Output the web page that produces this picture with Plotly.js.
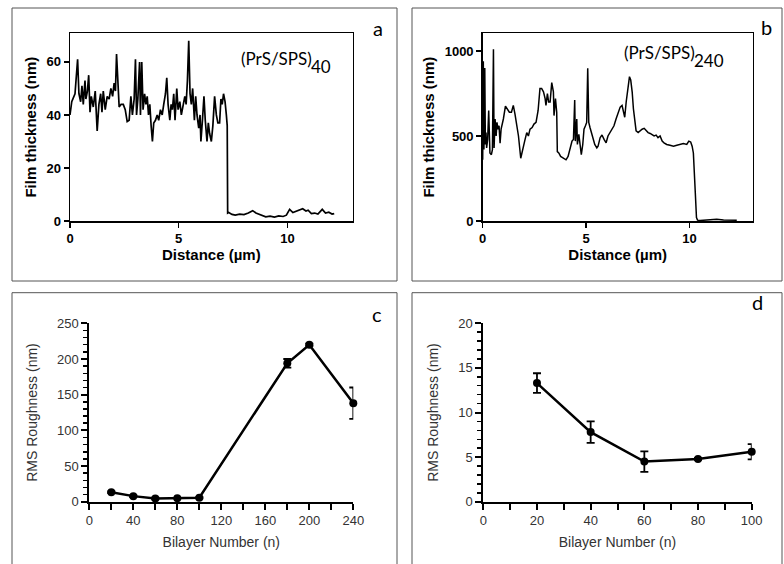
<!DOCTYPE html>
<html>
<head>
<meta charset="utf-8">
<script src="https://cdn.plot.ly/plotly-3.0.1.min.js"></script>
<style>html,body{margin:0;padding:0;background:#fff}#chart{width:784px;height:564px}</style>
</head>
<body>
<div id="chart"></div>
<script>
// Panel a: (PrS/SPS)40 height profile
const distA = [0,0.08,0.23,0.35,0.41,0.49,0.55,0.61,0.69,0.73,
  0.80,0.86,0.92,0.98,1.07,1.16,1.25,1.33,1.41,1.47,
  1.53,1.62,1.71,1.80,1.88,1.96,2.03,2.09,2.14,2.20,
  2.26,2.35,2.45,2.54,2.63,2.72,2.80,2.87,2.95,3.01,
  3.06,3.12,3.20,3.24,3.30,3.36,3.43,3.49,3.55,3.61,
  3.67,3.73,3.79,3.85,3.93,4.01,4.08,4.16,4.24,4.31,
  4.39,4.45,4.51,4.59,4.65,4.71,4.77,4.83,4.91,4.97,
  5.05,5.12,5.20,5.28,5.34,5.40,5.46,5.52,5.58,5.64,
  5.72,5.78,5.84,5.92,5.98,6.02,6.09,6.16,6.22,6.30,
  6.36,6.42,6.50,6.57,6.65,6.73,6.80,6.88,6.94,7.00,
  7.06,7.13,7.19,7.23,7.25,
  7.30,7.45,7.60,7.80,8.00,8.20,8.40,8.55,8.70,8.85,
  9.00,9.20,9.40,9.60,9.80,9.95,10.10,10.25,10.40,10.55,
  10.70,10.85,10.95,11.10,11.25,11.40,11.60,11.75,11.90,12.05,12.15];
const thickA = [40,45,48,61,48,45,51,44,53,46,
  49,55,41,47,43,49,34,44,48,41,
  49,42,47,46,50,47,52,49,63,50,
  43,44,44,42,37.5,38,47,40,46,61,
  40,46,60,40,60,42,48,44,47,40,
  44,36,30,37,38,40,38,42,40,44,
  48,54,44,38,44,42,48,38,50,42,
  45,40,44,47,44,53,68,48,44,50,
  38,47,40,35,40,30,38,47,38,30,
  37,33,30,36,47,40,37,37,46,44,
  48,45,40,36,3,
  3.2,2.5,2.2,2.6,2.4,3.0,3.9,3.0,2.6,2.0,
  1.6,1.8,1.5,1.9,1.7,2.2,4.4,3.2,3.6,4.0,
  4.6,3.8,4.1,2.8,3.0,2.6,4.4,3.0,3.3,2.6,2.8];

// Panel b: (PrS/SPS)240 height profile
const distB = [0.00,0.03,0.06,0.10,0.13,0.16,0.19,0.24,0.29,0.35,
  0.42,0.47,0.52,0.55,0.60,0.65,0.69,0.74,0.79,0.84,
  0.89,1.00,1.10,1.19,1.29,1.39,1.48,1.56,1.65,1.73,
  1.84,1.94,2.03,2.13,2.21,2.29,2.39,2.48,2.58,2.68,
  2.77,2.85,2.94,3.02,3.06,3.13,3.19,3.26,3.34,3.42,
  3.45,3.52,3.58,3.61,3.68,3.77,3.90,4.03,4.13,4.23,
  4.32,4.39,4.45,4.48,4.55,4.58,4.65,4.71,4.77,4.84,
  4.90,4.97,5.03,5.08,5.13,5.19,5.26,5.32,5.42,5.52,
  5.58,5.68,5.77,5.87,5.97,6.06,6.16,6.26,6.35,6.45,
  6.55,6.65,6.74,6.81,6.87,6.94,7.03,7.10,7.16,7.23,
  7.29,7.35,7.42,7.52,7.61,7.71,7.81,7.90,8.00,8.10,
  8.19,8.29,8.39,8.48,8.58,8.68,8.77,8.90,9.06,9.23,
  9.39,9.55,9.71,9.87,9.97,10.06,10.13,10.19,10.24,10.29,
  10.34,10.39,10.52,11.00,11.32,11.65,12.29];
const thickB = [360,940,420,900,450,520,430,480,650,400,
  390,420,1010,430,600,500,580,540,560,457,
  540,600,676,660,640,640,680,630,560,500,
  369,430,470,520,500,540,550,570,580,650,
  780,780,760,720,680,750,700,700,814,760,
  620,720,640,408,400,380,370,360,380,420,
  470,480,712,470,600,450,510,450,390,450,
  540,560,580,898,580,550,520,480,450,430,
  440,490,506,480,460,500,520,540,560,600,
  640,670,680,640,610,700,800,849,830,760,
  660,600,530,520,530,540,545,530,520,515,
  510,500,505,490,500,470,460,450,445,440,
  445,450,455,450,470,465,440,400,300,150,
  20,5,3,6,10,6,5];

// Panel c: RMS roughness vs bilayer number (all)
const bilayerC = [20,40,60,80,100,180,200,240];
const rmsC = [13.3,7.8,4.5,4.8,5.6,194,220,138];
const errC = [1.1,1.2,1.15,0.1,0.85,6,1.5,22];

// Panel d: RMS roughness vs bilayer number (20-100)
const bilayerD = [20,40,60,80,100];
const rmsD = [13.3,7.8,4.5,4.8,5.6];
const errD = [1.1,1.2,1.15,0.1,0.85];

const W = 784, H = 564;
const px = v => v / W;
const py = v => 1 - v / H;

const FONT = 'Liberation Sans, Arial, sans-serif';
const CAL = 'Lato, Carlito, Calibri, sans-serif';

const traces = [
  {x: distA, y: thickA, xaxis: 'x', yaxis: 'y', mode: 'lines', type: 'scatter',
   line: {color: '#000', width: 1.7}, hoverinfo: 'skip'},
  {x: distB, y: thickB, xaxis: 'x2', yaxis: 'y2', mode: 'lines', type: 'scatter',
   line: {color: '#000', width: 1.5}, hoverinfo: 'skip'},
  {x: bilayerC, y: rmsC, xaxis: 'x3', yaxis: 'y3', mode: 'lines+markers', type: 'scatter',
   line: {color: '#000', width: 2.5}, marker: {color: '#000', size: 8},
   error_y: {type: 'data', array: errC, visible: true, color: '#000', thickness: 1.8, width: 4},
   cliponaxis: false},
  {x: bilayerD, y: rmsD, xaxis: 'x4', yaxis: 'y4', mode: 'lines+markers', type: 'scatter',
   line: {color: '#000', width: 2.5}, marker: {color: '#000', size: 8},
   error_y: {type: 'data', array: errD, visible: true, color: '#000', thickness: 1.8, width: 4},
   cliponaxis: false}
];

const boldTick = {family: FONT, size: 13, color: '#000', weight: 'bold'};
const boldTitle = {family: FONT, size: 15, color: '#000', weight: 'bold'};
const regTick = {family: FONT, size: 13, color: '#333'};
const regTitle = {family: FONT, size: 14, color: '#333'};

function profX(dom, anchor, title) {
  return {domain: dom, anchor: anchor, range: [0, 13], dtick: 5, tick0: 0, showgrid: false, zeroline: false,
    showline: true, mirror: true, linecolor: '#000', linewidth: 1.5,
    ticks: 'outside', ticklen: 5, tickwidth: 1.5, tickcolor: '#000',
    tickfont: boldTick, automargin: false,
    title: {text: title, font: boldTitle, standoff: 4}};
}
function profY(dom, anchor, rng, dt, title) {
  return {domain: dom, anchor: anchor, range: rng, dtick: dt, tick0: 0, showgrid: false, zeroline: false,
    showline: true, mirror: true, linecolor: '#000', linewidth: 1.5,
    ticks: 'outside', ticklen: 5, tickwidth: 1.5, tickcolor: '#000',
    tickfont: boldTick, automargin: false,
    title: {text: title, font: boldTitle, standoff: 6}};
}
function rmsX(dom, anchor, rng, dt, mdt) {
  return {domain: dom, anchor: anchor, range: rng, tickmode: 'linear', dtick: dt, tick0: 0,
    showgrid: false, zeroline: false,
    showline: true, mirror: false, linecolor: '#000', linewidth: 2,
    ticks: 'outside', ticklen: 6, tickwidth: 2, tickcolor: '#000',
    minor: {dtick: mdt, ticks: 'outside', ticklen: 6, tickwidth: 2, tickcolor: '#000', showgrid: false},
    tickfont: regTick, automargin: false,
    title: {text: 'Bilayer Number (n)', font: regTitle, standoff: 10}};
}
function rmsY(dom, anchor, rng, dt, mdt) {
  return {domain: dom, anchor: anchor, range: rng, tickmode: 'linear', dtick: dt, tick0: 0,
    showgrid: false, zeroline: false,
    showline: true, mirror: false, linecolor: '#000', linewidth: 2,
    ticks: 'outside', ticklen: 6, tickwidth: 2, tickcolor: '#000',
    minor: {dtick: mdt, ticks: 'outside', ticklen: 4, tickwidth: 1.5, tickcolor: '#000', showgrid: false},
    tickfont: regTick, automargin: false,
    title: {text: 'RMS Roughness (nm)', font: regTitle, standoff: 16}};
}

const topDom = [py(221), py(33.3)];
const botDom = [py(501.7), py(323.3)];

const layout = {
  width: W, height: H,
  margin: {l: 0, r: 0, t: 0, b: 0, pad: 0},
  paper_bgcolor: '#fff', plot_bgcolor: '#fff',
  showlegend: false,
  xaxis: profX([px(70), px(352.7)], 'y', 'Distance (µm)'),
  yaxis: profY(topDom, 'x', [0, 70.8], 20, 'Film thickness (nm)'),
  xaxis2: Object.assign(profX([px(482.7), px(752.7)], 'y2', 'Distance (µm)'), {range: [0, 13.06]}),
  yaxis2: profY(topDom, 'x2', [0, 1104], 500, 'Film thickness (nm)'),
  xaxis3: rmsX([px(89.3), px(353.3)], 'y3', [0, 240], 40, 20),
  yaxis3: rmsY(botDom, 'x3', [0, 250], 50, 10),
  xaxis4: rmsX([px(483.3), px(751.7)], 'y4', [0, 100], 20, 10),
  yaxis4: rmsY(botDom, 'x4', [0, 20], 5, 1),
  shapes: [
    {type: 'rect', xref: 'paper', yref: 'paper', x0: px(12), x1: px(397), y0: py(281), y1: py(8),
     line: {color: '#555', width: 1}},
    {type: 'rect', xref: 'paper', yref: 'paper', x0: px(412), x1: px(782), y0: py(281), y1: py(8),
     line: {color: '#555', width: 1}},
    {type: 'rect', xref: 'paper', yref: 'paper', x0: px(12), x1: px(397), y0: py(570), y1: py(292.7),
     line: {color: '#555', width: 1}},
    {type: 'rect', xref: 'paper', yref: 'paper', x0: px(412), x1: px(782), y0: py(570), y1: py(292.7),
     line: {color: '#555', width: 1}}
  ],
  annotations: [
    {text: 'a', xref: 'paper', yref: 'paper', x: px(378), y: py(28), xanchor: 'center', yanchor: 'middle',
     showarrow: false, font: {family: CAL, size: 20, color: '#000'}},
    {text: 'b', xref: 'paper', yref: 'paper', x: px(766), y: py(27), xanchor: 'center', yanchor: 'middle',
     showarrow: false, font: {family: CAL, size: 20, color: '#000'}},
    {text: 'c', xref: 'paper', yref: 'paper', x: px(376.5), y: py(314), xanchor: 'center', yanchor: 'middle',
     showarrow: false, font: {family: CAL, size: 20, color: '#000'}},
    {text: 'd', xref: 'paper', yref: 'paper', x: px(757), y: py(302), xanchor: 'center', yanchor: 'middle',
     showarrow: false, font: {family: CAL, size: 20, color: '#000'}},
    {text: '(PrS/SPS)', xref: 'paper', yref: 'paper', x: px(239), y: py(59), xanchor: 'left', yanchor: 'middle',
     showarrow: false, font: {family: CAL, size: 17, color: '#000'}},
    {text: '40', xref: 'paper', yref: 'paper', x: px(309), y: py(66), xanchor: 'left', yanchor: 'middle',
     showarrow: false, font: {family: CAL, size: 17, color: '#000'}},
    {text: '(PrS/SPS)', xref: 'paper', yref: 'paper', x: px(621.7), y: py(52), xanchor: 'left', yanchor: 'middle',
     showarrow: false, font: {family: CAL, size: 17, color: '#000'}},
    {text: '240', xref: 'paper', yref: 'paper', x: px(692), y: py(60), xanchor: 'left', yanchor: 'middle',
     showarrow: false, font: {family: CAL, size: 17, color: '#000'}}
  ]
};

Plotly.newPlot('chart', traces, layout, {staticPlot: true, displayModeBar: false});
</script>
</body>
</html>
